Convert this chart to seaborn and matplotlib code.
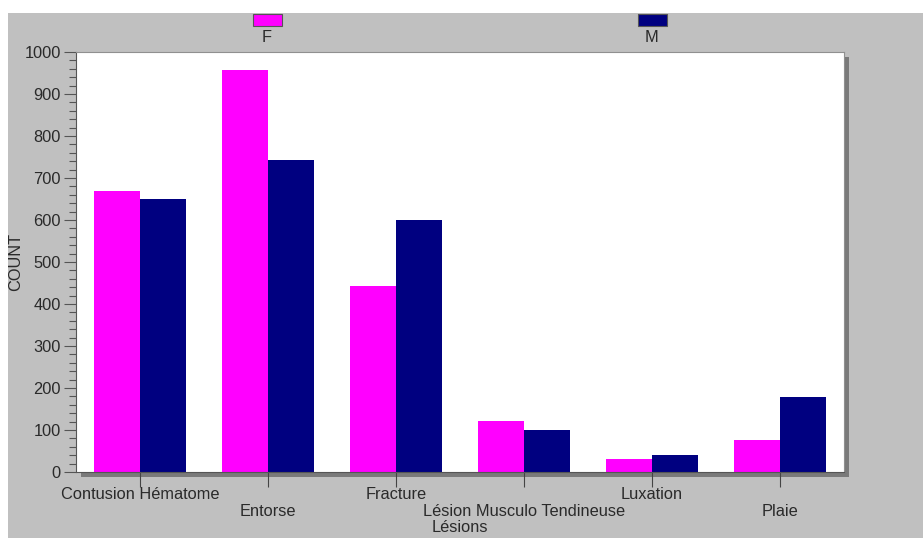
"""
Lésions par sexe - grouped bar chart
"""

import pandas as pd
import matplotlib.pyplot as plt
import seaborn as sns
from matplotlib.patches import Rectangle
from matplotlib.ticker import MultipleLocator

# data
lesions = ['Contusion Hématome', 'Entorse', 'Fracture',
           'Lésion Musculo Tendineuse', 'Luxation', 'Plaie']
count_f = [668, 957, 443, 121, 32, 77]
count_m = [651, 742, 601, 100, 40, 178]
sexes = ['F', 'M']
colors = {'F': '#ff00ff', 'M': '#000080'}

W, H = 923, 538
plt.rcParams['font.family'] = ['Liberation Sans', 'DejaVu Sans']
plt.rcParams['font.size'] = 11.8
TXT = '#2a2a2a'

df = pd.DataFrame({
    'lesion': lesions * 2,
    'count': count_f + count_m,
    'sexe': ['F'] * len(lesions) + ['M'] * len(lesions),
})

fig = plt.figure(figsize=(W / 100, H / 100), dpi=100, facecolor='white')

# grey panel + drop shadow of the plot area
fig.patches.append(Rectangle((8 / W, 0), 1 - 8 / W, 1 - 13 / H, transform=fig.transFigure,
                             facecolor='#c0c0c0', edgecolor='none', zorder=-10))
L, T, R, B = 76, 52, 844, 472
fig.patches.append(Rectangle(((L + 5) / W, (H - B - 5) / H), (R - L) / W, (B - T) / H,
                             transform=fig.transFigure, facecolor='#7a7a7a',
                             edgecolor='none', zorder=-5))

ax = fig.add_axes([L / W, (H - B) / H, (R - L) / W, (B - T) / H])
ax.set_facecolor('white')

sns.barplot(data=df, x='lesion', y='count', hue='sexe', hue_order=sexes,
            palette=colors, saturation=1, width=0.72, edgecolor='none',
            ax=ax, legend=False)

ax.set_xlim(-0.5, len(lesions) - 0.5)
ax.set_ylim(0, 1000)
ax.yaxis.set_major_locator(MultipleLocator(100))
ax.yaxis.set_minor_locator(MultipleLocator(20))

# staggered category labels
ax.set_xticks(range(len(lesions)))
ax.set_xticklabels([t if i % 2 == 0 else '\n' + t for i, t in enumerate(lesions)],
                   color=TXT, linespacing=1.15)
ax.tick_params(axis='x', length=11, width=0.8, color='#444444', pad=0)
ax.tick_params(axis='y', which='major', length=9, width=0.8, color='#555555', pad=2,
               labelcolor=TXT)
ax.tick_params(axis='y', which='minor', length=5, width=0.8, color='#555555')

for side in ['top', 'right']:
    ax.spines[side].set_color('#909090')
    ax.spines[side].set_linewidth(0.8)
for side in ['left', 'bottom']:
    ax.spines[side].set_color('#555555')
    ax.spines[side].set_linewidth(0.8)

ax.set_ylabel('COUNT', color=TXT)
ax.yaxis.set_label_coords(-(L - 23) / (R - L), 0.5)
ax.set_xlabel('Lésions', color=TXT)
ax.xaxis.set_label_coords(0.5, -(520 - B) / (B - T))

# legend along the top: swatch above its label
for s, cx in zip(sexes, [267, 652]):
    fig.patches.append(Rectangle(((cx - 14) / W, (H - 26) / H), 29 / W, 12 / H,
                                 transform=fig.transFigure, facecolor=colors[s],
                                 edgecolor='#555555', linewidth=0.8))
    fig.text(cx / W, 1 - 38 / H, s, ha='center', va='center', color=TXT)

fig.savefig('out.png', dpi=100, facecolor=fig.get_facecolor())
